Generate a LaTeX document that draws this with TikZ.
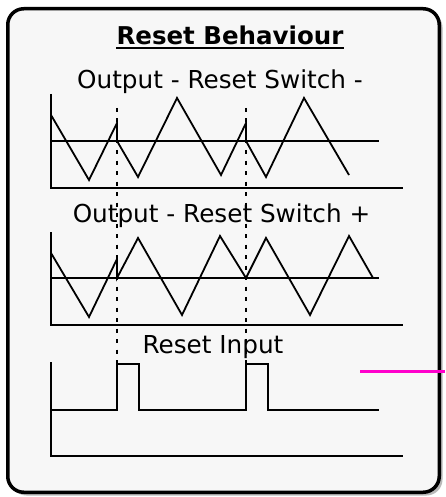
\documentclass[tikz,border=0pt]{standalone}
\usepackage{fontspec}
\setmainfont{DejaVu Sans}
\usepackage{xcolor}
\definecolor{panelgray}{HTML}{F7F7F7}
\definecolor{linkpink}{HTML}{FF00CC}

\begin{document}
\begin{tikzpicture}[x=1pt, y=-1pt,
    txt/.style={anchor=base, inner sep=0pt, font=\fontsize{24.7}{28}\selectfont},
    axis/.style={line width=2pt},
    wave/.style={line width=1.8pt, line join=miter},
    marker/.style={line width=2.2pt, dash pattern=on 4pt off 6.5pt},
    link/.style={line width=3pt, linkpink}]
      \useasboundingbox (0,0) rectangle (445,497);
      % panel with shadow
      \fill[gray!55, rounded corners=16pt] (10.5,11.5) rectangle (442.5,495.5);
      \draw[line width=3.5pt, fill=panelgray, rounded corners=16pt] (7.75,8.75) rectangle (439.25,492.25);

      \node[txt, font=\fontsize{24.5}{28}\selectfont\bfseries] (TITLE) at (230,45) {Reset Behaviour};
      \draw[line width=2pt] ([yshift=-3pt]TITLE.base west) -- ([yshift=-3pt]TITLE.base east);
      \node[txt] (NEG) at (220,89) {Output - Reset Switch -};
      \node[txt] (POS) at (221.5,222) {Output - Reset Switch +};
      \node[txt] (RST) at (213,353) {Reset Input};

      % axes
      \draw[axis] (51,94) -- (51,188) -- (403,188);
      \draw[axis] (51,141) -- (379,141);
      \draw[axis] (51,232) -- (51,325) -- (403,325);
      \draw[axis] (51,278) -- (379,278);
      \draw[axis] (51,362) -- (51,456) -- (403,456);

      % switch - : restarts falling from zero
      \draw[wave] (51,115) -- (89,180) -- (117,123) -- (117,141) -- (138,177) -- (177,98)
            -- (221,175) -- (246,123) -- (246,141) -- (266,177) -- (304,98) -- (349,175);
      % switch + : restarts rising from zero
      \draw[wave] (51,253) -- (89,317) -- (117,259) -- (117,278) -- (138,238) -- (182,315)
            -- (220,236) -- (246,278) -- (266,238) -- (310,315) -- (349,236) -- (373,278);
      % reset pulses
      \draw[wave] (51,410) -- (117,410) -- (117,364) -- (139,364) -- (139,410) -- (246,410)
            -- (246,364) -- (268,364) -- (268,410) -- (379,410);

      \coordinate (R1top) at (117,108);
      \coordinate (R1bot) at (117,364);
      \coordinate (R2top) at (246,108);
      \coordinate (R2bot) at (246,364);
      \draw[marker] (R1top) -- (R1bot);
      \draw[marker] (R2top) -- (R2bot);

      \coordinate (LINKin) at (360,371);
      \coordinate (LINKout) at (445,371);
      \draw[link] (LINKin) -- (LINKout);
\end{tikzpicture}
\end{document}
